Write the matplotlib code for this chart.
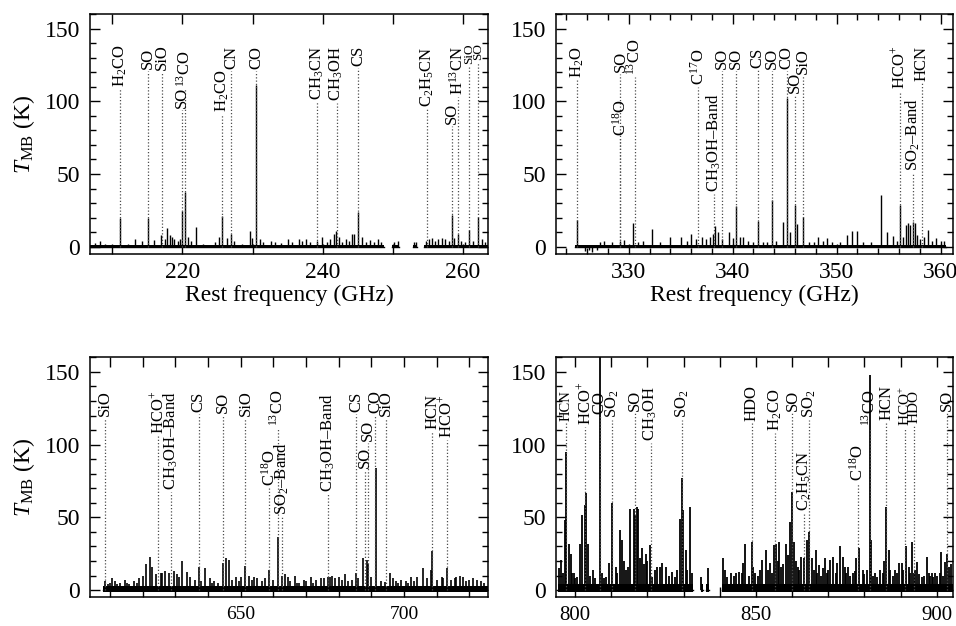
import matplotlib.pyplot as plt
from matplotlib.ticker import MultipleLocator

plt.rcParams['font.family'] = ['Liberation Serif', 'DejaVu Serif']
plt.rcParams['mathtext.fontset'] = 'custom'
plt.rcParams['mathtext.rm'] = 'Liberation Serif'
plt.rcParams['mathtext.it'] = 'Liberation Serif:italic'

# =======================================
#   DATA
# =======================================

# ---- panel 1 : 207-264 GHz
p1_span = [(206.8, 248.8), (249.9, 250.9), (252.9, 253.5), (254.5, 263.6)]
p1_freq = [207.5, 208.2, 209.0, 211.1, 212.3, 213.2, 214.2, 215.1, 216.0, 216.9,
           217.5, 217.8, 218.2, 218.5, 218.8, 219.3, 219.6, 219.9, 220.4, 220.8,
           221.2, 221.9, 223.0, 224.6, 225.2, 225.7, 226.4, 226.9, 227.3, 228.5,
           229.6, 229.9, 230.5, 231.0, 231.5, 232.7, 233.2, 234.0, 235.0, 235.6,
           236.6, 237.0, 237.6, 238.2, 239.2, 239.9, 240.6, 241.1, 241.7, 241.9,
           242.3, 242.8, 243.3, 243.7, 244.2, 244.5, 245.1, 245.6, 246.2, 246.8,
           247.4, 247.9, 248.4, 250.2, 250.7, 253.1, 253.4, 254.7, 255.2, 255.6,
           256.0, 256.5, 257.0, 257.5, 258.0, 258.5, 258.8, 259.35, 259.8, 260.3,
           260.9, 261.5, 262.2, 262.8, 263.2]
p1_temp = [2.5, 4, 2, 20, 2, 5.5, 4, 20, 4.6, 8,
           5, 12.6, 8, 7, 5, 4, 5, 24.7, 37.6, 6.4,
           4, 13.7, 2, 3, 6.4, 21, 5.7, 9, 4, 2,
           10.5, 6, 111, 5, 3, 4, 3, 2.5, 5.5, 3,
           5.5, 4, 5, 3, 4, 7, 3, 5, 9, 11,
           6.4, 3, 5, 4, 8.7, 9, 23.8, 6.4, 3, 4.6,
           3, 5, 3, 3, 4, 3, 3, 4, 5, 6,
           4, 5, 6, 5, 4, 22, 6, 9, 4, 3,
           11.7, 4, 20.8, 5, 3]
p1_names = ['H$_2$CO', 'SO', 'SiO', 'SO', '$^{13}$CO', 'H$_2$CO', 'CN', 'CO',
            'CH$_3$CN', 'CH$_3$OH', 'CS', 'C$_2$H$_5$CN', 'SO', 'H$^{13}$CN',
            'SiO', 'SO']
p1_line_freq = [211.1, 215.1, 217.1, 219.9, 220.3, 225.7, 226.95, 230.5,
                239.2, 242.0, 245.1, 254.9, 258.5, 259.35, 260.9, 262.2]

# ---- panel 2 : 323-361 GHz
p2_span = [(324.8, 360.5)]
p2_freq = [325.03, 325.8, 326.2, 326.5, 326.9, 327.2, 327.6, 328.4, 329.2, 329.5,
           330.4, 330.9, 331.4, 332.2, 333.0, 334.0, 335.0, 335.6, 336.0, 336.5,
           337.0, 337.4, 337.8, 338.1, 338.3, 338.6, 339.0, 339.6, 340.0, 340.3,
           340.7, 341.0, 341.5, 342.0, 342.4, 342.9, 343.3, 343.8, 344.2, 344.8,
           345.2, 345.5, 346.0, 346.2, 346.8, 347.3, 347.8, 348.2, 348.7, 349.1,
           349.6, 350.3, 351.0, 351.5, 352.0, 352.5, 353.3, 354.3, 354.8, 355.4,
           355.8, 356.05, 356.4, 356.7, 356.9, 357.1, 357.3, 357.5, 357.7, 358.0,
           358.4, 358.8, 359.2, 359.6, 360.0, 360.3]
p2_temp = [18.3, -3, -2.5, -3.5, -2, 3, 4, 3.5, 4, 4.5,
           16.5, 3, 4, 12, 3, 6.4, 7, 4, 8.7, 5,
           6.4, 5, 7, 9, 14, 10, 5, 10, 6, 28,
           7, 7, 4, 3, 17.6, 3, 3, 32, 4, 17,
           102, 10, 28.6, 15.6, 20.6, 3, 3, 6.4, 4, 5.7,
           3, 3, 8, 11, 11, 3, 3, 35.5, 10, 7.3,
           4, 29, 6.4, 15, 16, 15, 17, 16, 8, 5,
           7, 11.5, 4, 5.7, 4, 4]
p2_names = ['H$_2$O', 'C$^{18}$O', 'SO', '$^{13}$CO', 'C$^{17}$O',
            'CH$_3$OH\u2013Band', 'SO', 'SO', 'CS', 'SO', 'CO', 'SO', 'SiO',
            'HCO$^{+}$', 'SO$_2$\u2013Band', 'HCN']
p2_line_freq = [325.05, 329.2, 329.2, 330.6, 336.7, 338.2, 339.0, 340.3,
                342.4, 343.8, 345.2, 346.0, 346.8, 356.05, 357.3, 358.2]

# ---- panel 3 : 604-726 GHz
p3_span = [(608.0, 725.7)]
p3_freq = [608.5, 609.3, 610.0, 610.5, 611.5, 612.2, 613.0, 614.5, 615.3, 616.0,
           617.5, 618.3, 619.0, 620.0, 621.0, 622.3, 623.0, 624.0, 625.5, 626.0,
           627.0, 628.0, 629.5, 630.5, 631.0, 632.0, 633.5, 634.5, 636.0, 637.2,
           638.0, 639.2, 640.5, 641.2, 642.0, 643.0, 644.7, 645.5, 646.5, 647.5,
           648.5, 649.5, 650.0, 651.5, 652.5, 653.5, 654.0, 655.0, 656.5, 657.5,
           658.8, 660.0, 661.3, 662.6, 663.5, 664.5, 665.0, 666.5, 667.3, 668.0,
           669.5, 670.0, 671.5, 672.3, 673.0, 674.5, 675.5, 676.6, 677.5, 678.0,
           679.0, 680.0, 681.0, 682.0, 683.0, 684.0, 685.3, 686.0, 687.6, 688.6,
           689.1, 690.0, 691.3, 693.0, 694.2, 695.6, 696.5, 697.5, 698.3, 699.0,
           700.5, 701.3, 702.0, 703.0, 704.0, 705.8, 707.0, 708.3, 708.7, 710.0,
           711.5, 712.0, 713.1, 714.5, 715.5, 716.0, 717.0, 718.0, 719.0, 720.0,
           721.0, 722.5, 723.5, 724.5]
p3_temp = [6, 4, 5, 8, 6, 4, 5, 7, 5, 4,
           6, 5, 8, 10, 18, 23, 16, 11, 12, 12,
           13, 12, 13, 11, 9, 20, 12.6, 9, 7, 16,
           6, 15, 8, 5, 6, 5, 18.3, 21.8, 20.6, 7,
           9, 6, 9, 16.5, 10, 7, 9, 8, 6, 8,
           13.8, 7, 36.7, 10, 11, 9, 6, 10, 5, 5,
           7, 6, 9, 5, 7, 8.5, 8, 9, 9, 10,
           8, 9, 7, 10.8, 6, 7, 11.5, 8, 21.8, 21,
           18, 9, 83.7, 6, 5.7, 11.5, 8, 6.4, 5, 7,
           6, 5, 9, 6, 9, 15, 8, 13.8, 27, 7,
           9, 8, 15, 7, 8, 9, 10, 9, 6, 7,
           8, 7, 6, 5]
p3_names = ['SiO', 'HCO$^{+}$', 'CH$_3$OH\u2013Band', 'CS', 'SO', 'SiO',
            'C$^{18}$O', '$^{13}$CO', 'SO$_2$\u2013Band', 'CH$_3$OH\u2013Band',
            'CS', 'SO', 'SO', 'CO', 'SiO', 'HCN', 'HCO$^{+}$']
p3_line_freq = [608.5, 624.8, 628.6, 637.2, 644.7, 651.5, 658.8, 661.3, 662.6,
                676.6, 685.3, 688.0, 689.1, 691.2, 694.5, 708.7, 713.1]

# ---- panel 4 : 795-905 GHz
p4_span = [(795.3, 832.5), (834.7, 835.3), (836.2, 836.9), (840.6, 904.6)]
p4_freq = [795.6, 796.0, 796.5, 797.3, 797.6, 798.2, 798.8, 799.0, 799.6, 800.0,
           800.5, 801.2, 801.8, 802.6, 803.0, 803.6, 804.2, 805.0, 805.6, 806.8,
           807.5, 808.0, 808.5, 809.3, 810.3, 811.2, 811.7, 812.3, 813.0, 813.6,
           814.0, 814.6, 815.3, 816.2, 816.6, 817.0, 817.4, 818.0, 818.5, 819.0,
           819.5, 820.0, 820.7, 821.3, 822.0, 822.6, 823.5, 824.0, 825.0, 826.0,
           826.8, 827.5, 828.2, 828.9, 829.5, 829.9, 830.6, 831.0, 831.7, 832.2,
           834.9, 836.6, 841.0, 841.5, 842.0, 843.0, 843.8, 844.5, 845.3, 846.0,
           846.5, 847.0, 848.0, 848.9, 849.2, 849.8, 850.5, 851.0, 851.8, 852.7,
           853.3, 854.0, 854.5, 855.0, 855.5, 856.0, 856.3, 857.0, 857.6, 858.2,
           858.8, 859.5, 860.0, 860.5, 861.0, 861.5, 862.0, 862.4, 863.2, 864.1,
           864.8, 865.5, 866.0, 866.5, 867.0, 867.5, 868.0, 868.4, 869.0, 869.6,
           870.0, 870.5, 871.3, 872.0, 872.3, 873.2, 874.0, 874.6, 875.0, 875.5,
           876.0, 876.8, 877.3, 877.8, 878.6, 879.5, 880.0, 880.6, 881.4, 881.8,
           882.4, 883.0, 883.6, 884.3, 885.0, 885.4, 886.0, 886.7, 887.2, 888.0,
           888.5, 889.0, 889.5, 890.3, 890.8, 891.4, 892.2, 892.6, 893.1, 893.6,
           894.0, 894.6, 895.0, 896.0, 896.5, 897.3, 897.8, 898.0, 898.6, 899.0,
           899.6, 900.2, 900.8, 901.3, 901.8, 902.2, 902.8, 903.4, 904.0]
p4_temp = [15, 20.6, 12, 48, 95, 32, 25, 11.5, 12, 8,
           9, 32, 51.6, 58.5, 66.5, 32, 10, 13.8, 8, 200,
           12, 8, 9, 18.3, 60, 16, 12, 41, 34.4, 20,
           14, 16, 56, 55.5, 51.6, 57, 56, 22, 28.7, 18,
           25, 20, 31, 9, 14, 16, 16, 18.3, 16, 10,
           12.6, 9, 14, 48.6, 76.8, 55, 27.5, 14, 57.3, 11.5,
           9, 15, 21.8, 14, 9, 11.5, 10, 11.5, 12.6, 12,
           18.3, 32, 10, 33, 16, 12, 10, 14, 20.6, 27.5,
           14, 18.3, 12, 31, 32, 20, 33, 16, 18, 32,
           24, 47, 67.7, 33, 20, 16, 14, 23, 21.8, 34.4,
           40, 21.8, 14, 27.5, 12, 17.2, 10, 15, 21.8, 12,
           14, 20.6, 23, 12, 18.3, 30, 23, 16, 12, 16,
           10, 11.5, 13, 21.8, 28.7, 13.8, 11, 14, 148, 34.4,
           10, 11.5, 9, 13.8, 12, 20, 57, 27.5, 14, 10,
           13.8, 12, 18.3, 18.3, 14, 30, 16, 12, 33, 11.5,
           14, 19.5, 11, 9, 10, 23, 12, 10, 11.5, 9,
           11.5, 10, 12, 26.4, 10, 19.5, 25, 16, 18]
p4_names = ['HCN', 'HCO$^{+}$', 'CO', 'SO$_2$', 'SO', 'CH$_3$OH', 'SO$_2$',
            'HDO', 'H$_2$CO', 'SO', 'C$_2$H$_5$CN', 'SO$_2$', 'C$^{18}$O',
            '$^{13}$CO', 'HCN', 'HCO$^{+}$', 'HDO', 'SO']
p4_line_freq = [797.6, 802.8, 806.8, 810.3, 816.6, 820.9, 829.5, 848.9, 855.3,
                860.1, 863.4, 864.8, 878.1, 881.4, 886.0, 891.2, 893.7, 902.8]


# =======================================
#   LAYOUT (label tops in K, font sizes)
# =======================================

p1_top = [139, 137, 139, 110, 135, 122, 138, 138, 138, 138, 138, 138, 99, 138, 140, 140]
p1_size = [12] * 14 + [9.5, 9.5]
p2_top = [138, 101, 135, 143, 136.5, 105.6, 136.5, 136.5, 136.5, 136.5, 138,
          120.5, 136.5, 138, 102, 138]
p2_size = [12] * 16
p3_top = [137.6, 137, 136.5, 136.5, 136.5, 137.6, 96.4, 137.6, 102, 135, 136.5,
          98.6, 117, 137.6, 137.6, 135, 134]
p3_size = [12] * 17
p4_top = [137.6, 143, 136.5, 137.6, 137.6, 140, 137.6, 141, 138.8, 137.6, 96.3,
          137.6, 99.8, 137.6, 141, 140, 137.6, 137.6]
p4_size = [10.5] + [12] * 14 + [11, 11, 12]


fig = plt.figure(figsize=(9.56, 6.26), dpi=100)
ax1 = fig.add_axes([0.0941, 0.5942, 0.4163, 0.3834])
ax2 = fig.add_axes([0.5816, 0.5942, 0.4153, 0.3834])
ax3 = fig.add_axes([0.0941, 0.0458, 0.4163, 0.3834])
ax4 = fig.add_axes([0.5816, 0.0458, 0.4153, 0.3834])


def draw_spectrum(ax, spans, freq, temp, noise, xlim, major, minor, minor_len, xsize, lw):
    for a, b in spans:
        ax.fill_between([a, b], noise[0], noise[1], color='black', lw=0)
        ax.plot([a, b], [0, 0], color='black', lw=1.0)
    ax.vlines(freq, 0, temp, color='black', lw=lw)
    ax.set_xlim(*xlim)
    ax.set_ylim(-5, 160)
    ax.xaxis.set_major_locator(MultipleLocator(major))
    ax.xaxis.set_minor_locator(MultipleLocator(minor))
    ax.yaxis.set_major_locator(MultipleLocator(50))
    ax.yaxis.set_minor_locator(MultipleLocator(10))
    ax.tick_params(which='both', direction='in', top=True, right=True, width=1.0)
    ax.tick_params(which='major', length=7)
    ax.tick_params(axis='y', which='minor', length=4.5)
    ax.tick_params(axis='x', which='minor', length=minor_len)
    ax.tick_params(axis='x', labelsize=xsize, pad=6)
    ax.tick_params(axis='y', labelsize=17, pad=7)
    for s in ax.spines.values():
        s.set_linewidth(1.1)


def add_labels(ax, names, line_freq, tops, sizes):
    out = []
    for n, f, t, s in zip(names, line_freq, tops, sizes):
        txt = ax.text(f, t, n, rotation=90, ha='center', va='top', fontsize=s)
        out.append((txt, f))
    return out


draw_spectrum(ax1, p1_span, p1_freq, p1_temp, (-0.8, 1.0), (206.8, 263.6), 20, 10, 7, 17, 1.0)
draw_spectrum(ax2, p2_span, p2_freq, p2_temp, (-0.8, 1.0), (323.0, 361.2), 10, 2, 4.5, 17, 1.0)
draw_spectrum(ax3, p3_span, p3_freq, p3_temp, (-1.5, 3.0), (603.9, 725.7), 50, 10, 7, 14, 1.2)
draw_spectrum(ax4, p4_span, p4_freq, p4_temp, (-1.5, 4.5), (794.7, 904.5), 50, 10, 7, 15, 1.3)

labels = []
labels.append((ax1, add_labels(ax1, p1_names, p1_line_freq, p1_top, p1_size)))
labels.append((ax2, add_labels(ax2, p2_names, p2_line_freq, p2_top, p2_size)))
labels.append((ax3, add_labels(ax3, p3_names, p3_line_freq, p3_top, p3_size)))
labels.append((ax4, add_labels(ax4, p4_names, p4_line_freq, p4_top, p4_size)))

for ax in (ax1, ax2):
    ax.set_xlabel('Rest frequency (GHz)', fontsize=17, labelpad=1)
for ax in (ax1, ax3):
    ax.set_ylabel('$T_{\\rm MB}$ (K)', fontsize=17, labelpad=6)

# dotted markers from the baseline up to the bottom of each label
fig.canvas.draw()
renderer = fig.canvas.get_renderer()
for ax, items in labels:
    inv = ax.transData.inverted()
    for txt, f in items:
        bb = txt.get_window_extent(renderer)
        y_bot = inv.transform((0, bb.y0 - 2))[1]
        ax.vlines(f, 0, y_bot, color='0.3', lw=0.9, linestyles=(0, (1, 1.6)))

fig.savefig('out.png', dpi=100)
